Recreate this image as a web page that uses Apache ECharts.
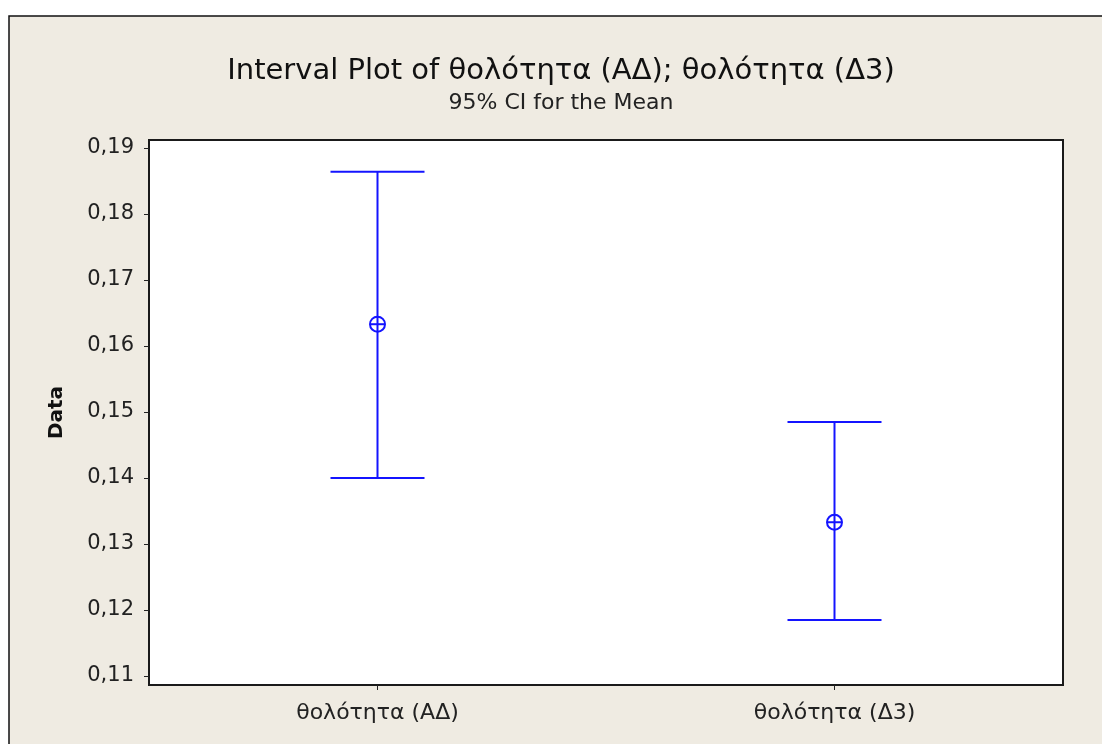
<!DOCTYPE html>
<html>
<head>
<meta charset="utf-8">
<script src="https://cdn.jsdelivr.net/npm/echarts@6/dist/echarts.min.js"></script>
<style>
  html, body { margin: 0; padding: 0; background: #ffffff; }
  #chart { width: 1102px; height: 744px; }
</style>
</head>
<body>
<div id="chart"></div>
<script>
// Interval plot: mean with 95% confidence interval per variable
const categories = ['θολότητα (ΑΔ)', 'θολότητα (Δ3)'];
const means = [0.1633, 0.1333];
const lowerCI = [0.1400, 0.1185];
const upperCI = [0.1864, 0.1485];
const yTicks = [0.11, 0.12, 0.13, 0.14, 0.15, 0.16, 0.17, 0.18, 0.19];

const FONT = 'DejaVu Sans';
const BLUE = '#1414ff';

const intervalData = categories.map((c, i) => [i, lowerCI[i], upperCI[i], means[i]]);

const chart = echarts.init(document.getElementById('chart'), null, { renderer: 'canvas' });

chart.setOption({
  backgroundColor: '#ffffff',
  animation: false,
  graphic: [{
    type: 'rect',
    z: -10,
    silent: true,
    shape: { x: 9, y: 16, width: 1100, height: 740 },
    style: { fill: '#efebe2', stroke: '#111', lineWidth: 1.5 }
  }],
  title: {
    text: 'Interval Plot of θολότητα (ΑΔ); θολότητα (Δ3)',
    subtext: '95% CI for the Mean',
    left: 556,
    textAlign: 'center',
    top: 52,
    itemGap: 6,
    textStyle: { fontFamily: FONT, fontSize: 29, fontWeight: 'normal', color: '#111' },
    subtextStyle: { fontFamily: FONT, fontSize: 22, color: '#222' }
  },
  grid: {
    left: 149, top: 140, right: 39, bottom: 59,
    show: true,
    backgroundColor: '#ffffff',
    borderColor: '#1a1a1a',
    borderWidth: 2
  },
  xAxis: {
    type: 'category',
    data: categories,
    boundaryGap: true,
    axisLine: { show: true, lineStyle: { color: '#1a1a1a', width: 2 } },
    axisTick: { show: true, alignWithLabel: true, length: 5, lineStyle: { color: '#222' } },
    axisLabel: { fontFamily: FONT, fontSize: 22, color: '#222', margin: 17 },
    splitLine: { show: false }
  },
  yAxis: {
    type: 'value',
    min: 0.10864,
    max: 0.19121,
    name: 'Data',
    nameLocation: 'middle',
    nameRotate: 90,
    nameGap: 82,
    nameTextStyle: { fontFamily: FONT, fontSize: 20, fontWeight: 'bold', color: '#111' },
    axisLine: { show: true, lineStyle: { color: '#1a1a1a', width: 2 } },
    axisTick: {
      show: true, length: 5, lineStyle: { color: '#222' },
      customValues: yTicks
    },
    axisLabel: {
      fontFamily: FONT, fontSize: 21, color: '#222', margin: 15,
      customValues: yTicks,
      formatter: v => v.toFixed(2).replace('.', ',')
    },
    splitLine: { show: false }
  },
  series: [{
    type: 'custom',
    data: intervalData,
    encode: { x: 0, y: [1, 2, 3] },
    renderItem: function (params, api) {
      const x = api.value(0);
      const lo = api.coord([x, api.value(1)]);
      const hi = api.coord([x, api.value(2)]);
      const mid = api.coord([x, api.value(3)]);
      const capHalf = 47;
      const r = 7.5;
      const ls = { stroke: BLUE, lineWidth: 2 };
      return {
        type: 'group',
        children: [
          { type: 'line', shape: { x1: hi[0], y1: hi[1], x2: lo[0], y2: lo[1] }, style: ls },
          { type: 'line', shape: { x1: hi[0] - capHalf, y1: hi[1], x2: hi[0] + capHalf, y2: hi[1] }, style: ls },
          { type: 'line', shape: { x1: lo[0] - capHalf, y1: lo[1], x2: lo[0] + capHalf, y2: lo[1] }, style: ls },
          { type: 'circle', shape: { cx: mid[0], cy: mid[1], r: r }, style: { fill: 'none', stroke: BLUE, lineWidth: 2 } },
          { type: 'line', shape: { x1: mid[0] - r, y1: mid[1], x2: mid[0] + r, y2: mid[1] }, style: ls }
        ]
      };
    }
  }]
});
</script>
</body>
</html>
